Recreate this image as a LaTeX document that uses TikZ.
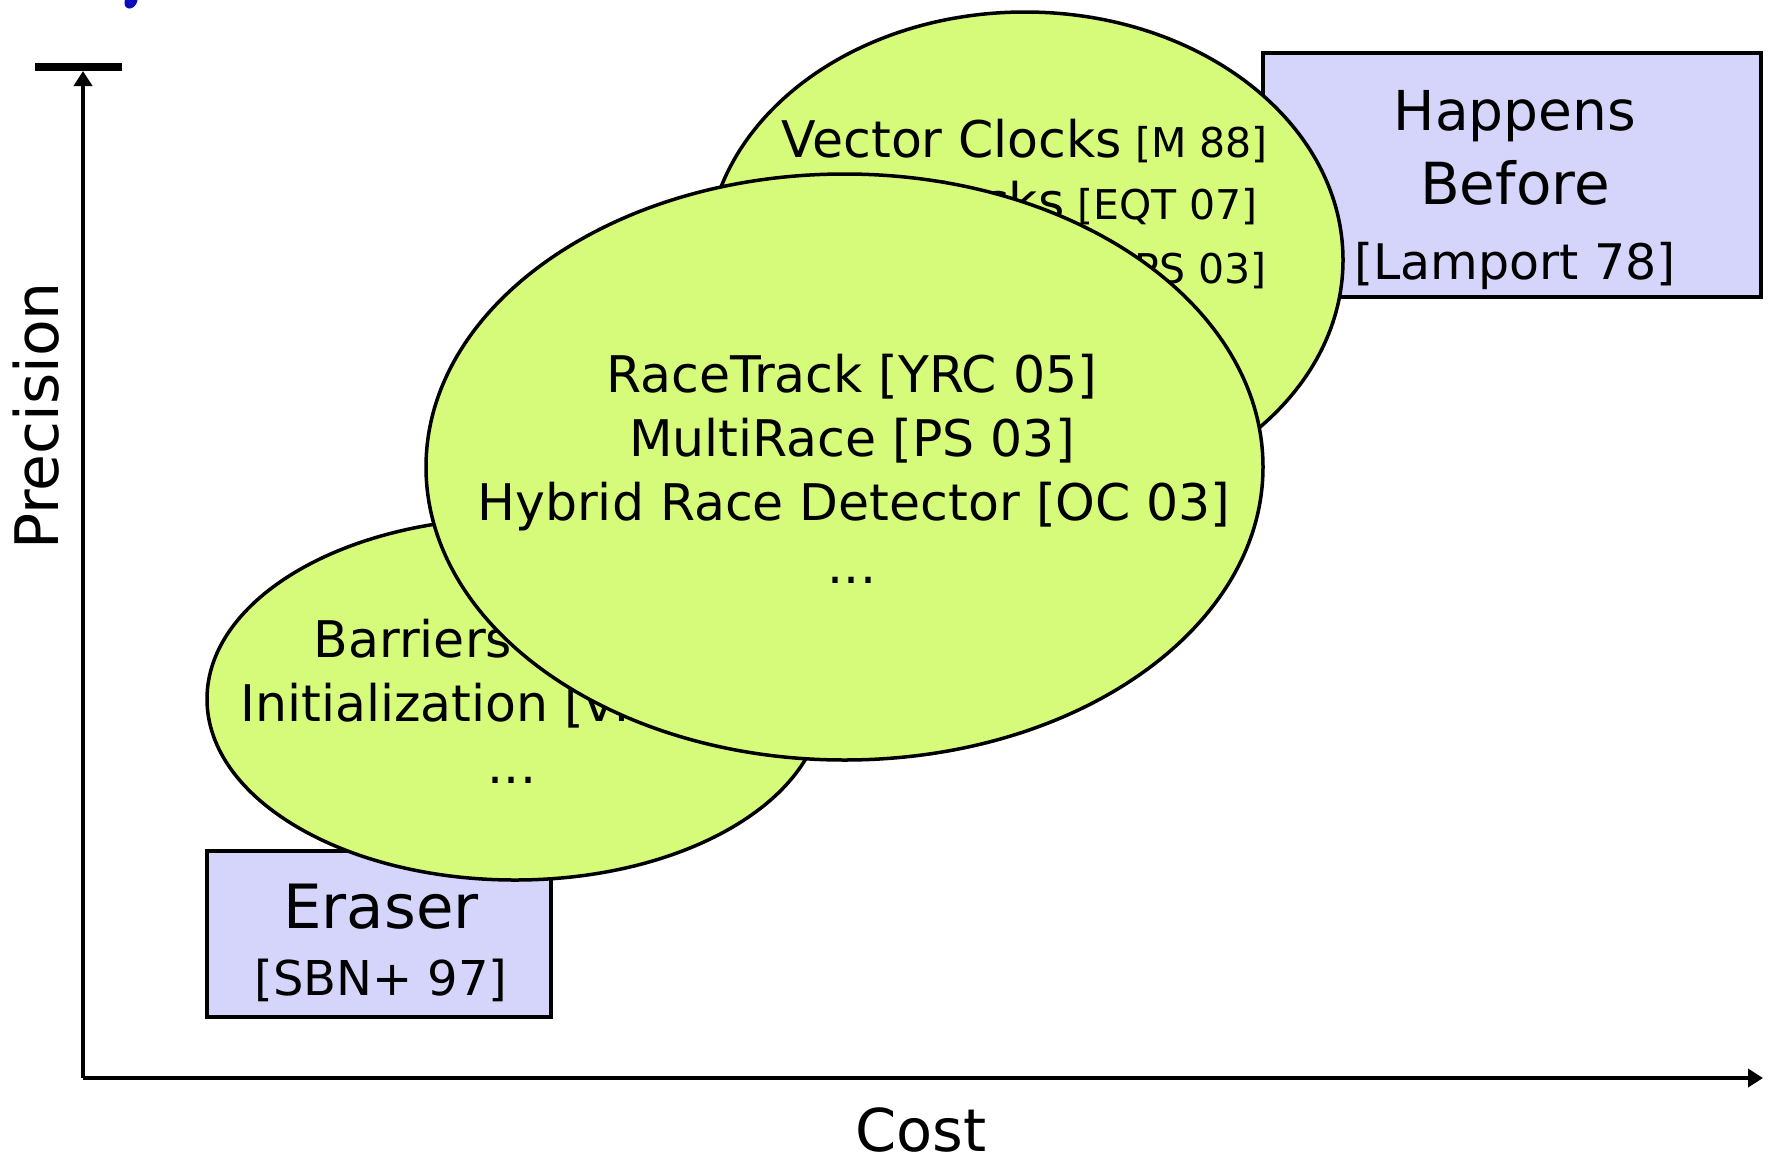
\documentclass[tikz,border=0pt]{standalone}
\usepackage{fontspec}
\setmainfont{DejaVu Sans}
\usetikzlibrary{shapes.geometric,arrows.meta}

\definecolor{blobgreen}{RGB}{214,251,123}
\definecolor{boxlav}{RGB}{213,213,252}
\definecolor{titleblue}{RGB}{10,10,190}

\newcommand{\fs}[1]{\fontsize{#1}{#1}\selectfont}

\tikzset{
  blob/.style={ellipse, draw=black, line width=3.5pt, fill=blobgreen, inner sep=0pt},
  toolbox/.style={rectangle, draw=black, line width=3.5pt, fill=boxlav, inner sep=0pt},
  axisline/.style={line width=4pt, -{Triangle[length=15pt,width=18pt]}},
  lbl/.style={inner sep=0pt, anchor=base},
  lble/.style={inner sep=0pt, anchor=base east},
}

\begin{document}
\begin{tikzpicture}[x=1pt,y=-1pt]
\useasboundingbox (0,0) rectangle (1775,1168);

% fragment of the heading above the plot
\fill[titleblue, rotate around={-30:(131,1)}] (131,1) ellipse [x radius=6, y radius=8];

% axes
\coordinate (origin) at (83,1078);
\coordinate (ytop) at (83,71);
\coordinate (xend) at (1763,1078);
\coordinate (barL) at (35,67);
\coordinate (barR) at (122,67);
\draw[line width=8pt] (barL) -- (barR);
\draw[axisline] (origin) -- (ytop);
\draw[axisline] (origin) -- (xend);

\node[lbl, rotate=90, font=\fs{60}] (prec) at (58,416) {Precision};
\node[lbl, font=\fs{59}] (cost) at (921,1151) {Cost};

% the two boxes at the ends
\node[toolbox, minimum width=498pt, minimum height=244pt] (hbbox) at (1512,175) {};
\node[lbl, font=\fs{55}] (hb1) at (1515,130) {Happens};
\node[lbl, font=\fs{58}] (hb2) at (1515,204) {Before};
\node[lbl, font=\fs{49}] (hb3) at (1515,279) {[Lamport 78]};

\node[toolbox, minimum width=344pt, minimum height=166pt] (erbox) at (379,934) {};
\node[lbl, font=\fs{61}] (er1) at (381,928) {Eraser};
\node[lbl, font=\fs{48}] (er2) at (381,995) {[SBN+ 97]};

% lower blob
\node[blob, minimum width=616pt, minimum height=362pt] (lowblob) at (515,699) {};
\node[lbl, font=\fs{50.5}] (b1) at (512,657) {Barriers [PS 03]};
\node[lbl, font=\fs{50.5}] (b2) at (512,721) {Initialization [vPG 01]};
\node[lbl, font=\fs{50.5}] (b3) at (512,783) {...};

% upper blob
\node[blob, minimum width=636pt, minimum height=496pt] (topblob) at (1025,260) {};
\node[lble, font=\fs{50.5}] (t1) at (1268,157) {Vector Clocks\fs{41} [M 88]};
\node[lble, font=\fs{50.5}] (t2) at (1258,219) {Goldilocks\fs{41} [EQT 07]};
\node[lble, font=\fs{50.5}] (t3) at (1267,283) {DJIT+\fs{41} [PS 03]};

% middle blob
\node[blob, minimum width=837pt, minimum height=586pt] (midblob) at (844.5,467) {};
\node[lbl, font=\fs{50.5}] (m1) at (852,392) {RaceTrack [YRC 05]};
\node[lbl, font=\fs{50.5}] (m2) at (852,456) {MultiRace [PS 03]};
\node[lbl, font=\fs{50.5}] (m3) at (854,520) {Hybrid Race Detector [OC 03]};
\node[lbl, font=\fs{50.5}] (m4) at (852,583) {...};
\end{tikzpicture}
\end{document}
